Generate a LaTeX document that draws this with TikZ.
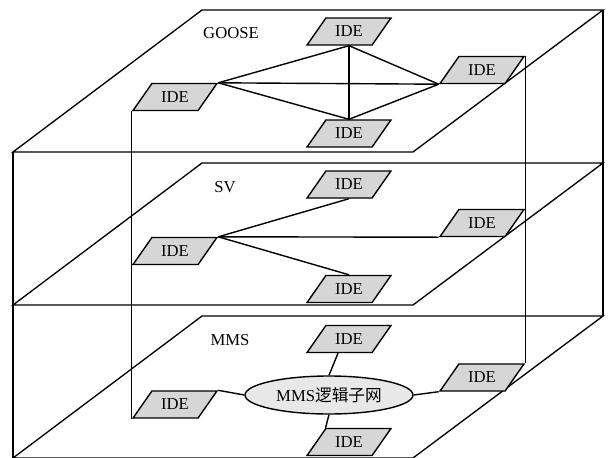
\documentclass[tikz,border=0pt]{standalone}
\usepackage{fontspec}
\setmainfont{Liberation Serif}
\newfontfamily\cjk{Noto Sans CJK SC}
\usetikzlibrary{shapes.geometric,calc}
\begin{document}
\begin{tikzpicture}[x=0.75pt,y=-0.75pt,
  plate/.style={draw=black,line width=1pt,line join=miter},
  link/.style={draw=black,line width=1.05pt},
  ide/.style={trapezium,trapezium left angle=44,trapezium right angle=136,
    trapezium stretches=true,minimum width=63pt,minimum height=20.25pt,inner sep=0pt,
    draw=black,line width=1.05pt,fill=black!16,font=\fontsize{12.5}{14}\selectfont},
  net/.style={ellipse,minimum width=126pt,minimum height=28.5pt,inner sep=0pt,
    draw=black,line width=1.05pt,fill=black!9,font=\fontsize{12.5}{14}\selectfont},
  lbl/.style={font=\fontsize{12.5}{14}\selectfont,inner sep=0pt}]
\useasboundingbox (0,0) rectangle (612,458);
% plates
\foreach \t in {10,163,316}{
  \draw[plate] (202,\t) -- (603,\t) -- (413,\t+142) -- (13,\t+142) -- cycle;
}
\draw[plate] (13,152) -- (13,458);
\draw[plate] (603,10) -- (603,316);
% layer labels
\node[lbl] (lg) at (231,33) {GOOSE};
\node[lbl] (ls) at (225,187) {SV};
\node[lbl] (lm) at (230,340) {MMS};
% GOOSE
\node[ide] (gT) at (349,31.5) {IDE};
\node[ide] (gL) at (175,97) {IDE};
\node[ide] (gR) at (482,70) {IDE};
\node[ide] (gB) at (349,133.5) {IDE};
% SV
\node[ide] (sT) at (349,184.5) {IDE};
\node[ide] (sL) at (175,251) {IDE};
\node[ide] (sR) at (482,223) {IDE};
\node[ide] (sB) at (349,289) {IDE};
% MMS
\node[ide] (mT) at (349,339) {IDE};
\node[ide] (mL) at (175,404.5) {IDE};
\node[ide] (mR) at (482,377.5) {IDE};
\node[ide] (mB) at (349,442) {IDE};
\node[net] (net) at (329,395) {MMS{\cjk 逻辑子网}};
% vertical ties
\draw[link] (gL.bottom left corner) -- (mL.bottom left corner);
\draw[link] (gR.top right corner) -- (mR.top right corner);
% GOOSE links
\draw[link] (gL.top right corner) -- (gT.south);
\draw[link] (gL.top right corner) -- (gR.bottom left corner);
\draw[link] (gL.top right corner) -- (gB.north);
\draw[link] (gT.south) -- (gB.north);
\draw[link] (gT.south) -- (gR.bottom left corner);
\draw[link] (gB.north) -- (gR.bottom left corner);
% SV links
\draw[link] (sL.top right corner) -- (sT.south);
\draw[link] (sL.top right corner) -- (sR.bottom left corner);
\draw[link] (sL.top right corner) -- (sB.north);
% MMS links
\draw[link] (mL.top right corner) -- (net.west);
\draw[link] (mR.bottom left corner) -- (net.east);
\draw[link] ($(mT.south)+(-11,0)$) -- (net.north);
\draw[link] (net.south) -- (mB.top left corner);
\end{tikzpicture}
\end{document}
